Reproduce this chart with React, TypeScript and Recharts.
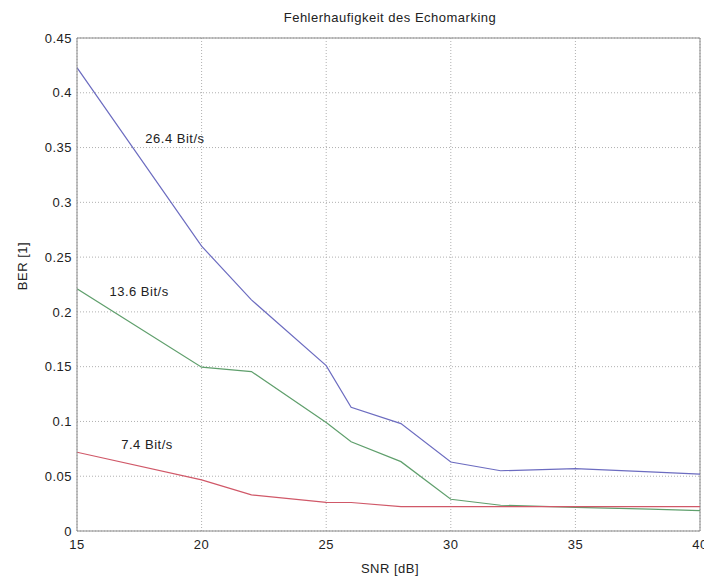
import React from 'react';
import { LineChart, Line, XAxis, YAxis, CartesianGrid, ReferenceLine, ReferenceDot } from 'recharts';

const snr = [15, 20, 22, 25, 26, 28, 30, 32, 35, 38, 40];
const ber264 = [0.423, 0.26, 0.211, 0.151, 0.113, 0.098, 0.063, 0.055, 0.057, 0.054, 0.052];
const ber136 = [0.221, 0.1495, 0.1455, 0.099, 0.0815, 0.0633, 0.029, 0.0235, 0.0216, 0.02, 0.0186];
const ber74 = [0.0719, 0.0466, 0.033, 0.0262, 0.026, 0.0222, 0.0222, 0.0222, 0.0222, 0.0222, 0.0222];
const xTicks = [15, 20, 25, 30, 35, 40];
const yTicks = [0, 0.05, 0.1, 0.15, 0.2, 0.25, 0.3, 0.35, 0.4, 0.45];
const seriesLabels = [
  { text: '26.4 Bit/s', x: 18.93, y: 0.358 },
  { text: '13.6 Bit/s', x: 17.49, y: 0.2185 },
  { text: '7.4 Bit/s', x: 17.81, y: 0.0795 },
];

const data = snr.map((s, i) => ({ snr: s, a: ber264[i], b: ber136[i], c: ber74[i] }));

const font = '"Liberation Sans", Arial, sans-serif';
const tickStyle = { fontSize: 13, fill: '#222', fontFamily: font, letterSpacing: 0.5 };

export default function App() {
  return (
    <div style={{ position: 'relative', width: 704, height: 572, fontFamily: font, letterSpacing: 0.5 }}>
      <div style={{ position: 'absolute', left: 382, top: 2, transform: 'translateX(-50%)', fontSize: 13, color: '#222', whiteSpace: 'nowrap' }}>
        Fehlerhaufigkeit des Echomarking
      </div>
      <div style={{ position: 'absolute', left: 382, top: 553, transform: 'translateX(-50%)', fontSize: 13, color: '#222', whiteSpace: 'nowrap' }}>
        SNR [dB]
      </div>
      <div style={{ position: 'absolute', left: 14, top: 258, transform: 'translate(-50%, -50%) rotate(-90deg)', fontSize: 13, color: '#222', whiteSpace: 'nowrap' }}>
        BER [1]
      </div>
      <LineChart width={704} height={572} data={data} margin={{ top: 30, right: 12, left: 29, bottom: 19 }}>
        <CartesianGrid stroke="#b0b0b0" strokeDasharray="1 2" />
        <XAxis
          dataKey="snr"
          type="number"
          domain={[15, 40]}
          ticks={xTicks}
          height={30}
          tickSize={0}
          tickMargin={9}
          stroke="#8a8a8a"
          tick={tickStyle}
          allowDataOverflow
        />
        <YAxis
          type="number"
          domain={[0, 0.45]}
          ticks={yTicks}
          width={40}
          tickSize={0}
          tickMargin={5}
          stroke="#8a8a8a"
          tick={tickStyle}
          tickFormatter={(v: number) => String(v)}
          allowDataOverflow
        />
        <ReferenceLine y={0.45} stroke="#8a8a8a" />
        <ReferenceLine x={40} stroke="#8a8a8a" />
        <Line type="linear" dataKey="a" stroke="#6c6cc0" strokeWidth={1.2} dot={false} isAnimationActive={false} />
        <Line type="linear" dataKey="b" stroke="#5f9f6c" strokeWidth={1.2} dot={false} isAnimationActive={false} />
        <Line type="linear" dataKey="c" stroke="#d05868" strokeWidth={1.2} dot={false} isAnimationActive={false} />
        {seriesLabels.map((l) => (
          <ReferenceDot
            key={l.text}
            x={l.x}
            y={l.y}
            r={0}
            fill="none"
            stroke="none"
            label={{ value: l.text, position: 'center', fontSize: 13, fill: '#222', fontFamily: font, letterSpacing: 0.5 }}
          />
        ))}
      </LineChart>
    </div>
  );
}
